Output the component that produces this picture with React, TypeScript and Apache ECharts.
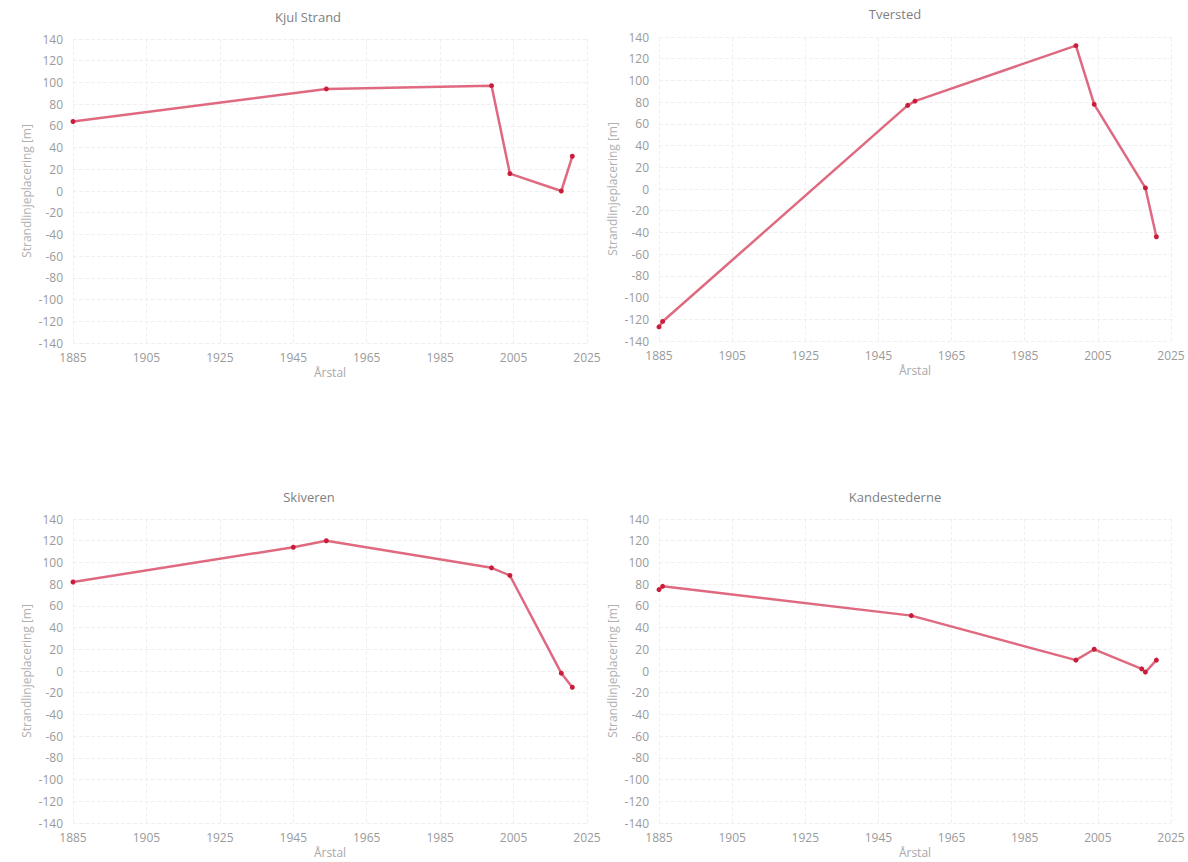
import React, { useEffect, useRef } from "react";
import * as echarts from "echarts";

// Data
const chartTitles = ["Kjul Strand", "Tversted", "Skiveren", "Kandestederne"];

const kjulYears = [1885, 1954, 1999, 2004, 2018, 2021];
const kjulValues = [64, 94, 97, 16, 0, 32];

const tverstedYears = [1885, 1886, 1953, 1955, 1999, 2004, 2018, 2021];
const tverstedValues = [-127, -122, 77, 81, 132, 78, 1, -44];

const skiverenYears = [1885, 1945, 1954, 1999, 2004, 2018, 2021];
const skiverenValues = [82, 114, 120, 95, 88, -2, -15];

const kandeYears = [1885, 1886, 1954, 1999, 2004, 2017, 2018, 2021];
const kandeValues = [75, 78, 51, 10, 20, 2, -1, 10];

const xTickStart = 1885;
const xTickEnd = 2025;
const xTickStep = 20;
const yMin = -140;
const yMax = 140;
const yStep = 20;

const xName = "Årstal";
const yName = "Strandlinjeplacering [m]";

const allYears = [kjulYears, tverstedYears, skiverenYears, kandeYears];
const allValues = [kjulValues, tverstedValues, skiverenValues, kandeValues];

// layout (page coordinates)
const grids = [
  { left: 73, top: 39, width: 514, height: 304 },
  { left: 659, top: 37, width: 512, height: 304 },
  { left: 73, top: 519, width: 514, height: 304 },
  { left: 659, top: 519, width: 512, height: 304 },
];
const titlePos = [
  { x: 308, y: 10 },
  { x: 895, y: 7 },
  { x: 309, y: 490 },
  { x: 895, y: 490 },
];

const FONT = "Open Sans";

export default function App() {
  const ref = useRef<HTMLDivElement>(null);

  useEffect(() => {
    if (!ref.current) return;
    const chart = echarts.init(ref.current, undefined, { renderer: "svg" });

    const option: any = {
      animation: false,
      backgroundColor: "#ffffff",
      title: chartTitles.map((t, i) => ({
        text: t,
        left: titlePos[i].x,
        top: titlePos[i].y,
        textAlign: "center",
        padding: 0,
        textStyle: {
          fontFamily: FONT,
          fontSize: 13,
          fontWeight: "normal",
          color: "#808080",
        },
      })),
      grid: grids.map((g) => ({ ...g, containLabel: false })),
      xAxis: grids.map((_, i) => ({
        type: "value",
        gridIndex: i,
        min: 0,
        max: xTickEnd - xTickStart,
        interval: xTickStep,
        name: xName,
        nameLocation: "middle",
        nameGap: 23,
        nameTextStyle: { fontFamily: FONT, fontSize: 12, color: "#a8a8a8" },
        axisLine: { show: false },
        axisTick: { show: false },
        axisLabel: {
          fontFamily: FONT,
          fontSize: 12,
          color: "#9a9a9a",
          margin: 8,
          formatter: (v: number) => String(v + xTickStart),
        },
        splitLine: {
          show: true,
          lineStyle: { color: "#f0f0f0", type: "dashed", width: 1 },
        },
      })),
      yAxis: grids.map((_, i) => ({
        type: "value",
        gridIndex: i,
        min: yMin,
        max: yMax,
        interval: yStep,
        name: yName,
        nameLocation: "middle",
        nameGap: 41,
        nameTextStyle: { fontFamily: FONT, fontSize: 12, color: "#b0b0b0" },
        axisLine: { show: false },
        axisTick: { show: false },
        axisLabel: {
          fontFamily: FONT,
          fontSize: 12,
          color: "#9a9a9a",
          margin: 10,
        },
        splitLine: {
          show: true,
          lineStyle: { color: "#f0f0f0", type: "dashed", width: 1 },
        },
      })),
      series: allYears.map((years, i) => ({
        type: "line",
        xAxisIndex: i,
        yAxisIndex: i,
        data: years.map((y, k) => [y - xTickStart, allValues[i][k]]),
        symbol: "circle",
        symbolSize: 5,
        showSymbol: true,
        lineStyle: { color: "#dc5a72", width: 2.5, opacity: 0.9 },
        itemStyle: { color: "#c81e3c" },
        clip: false,
      })),
    };

    chart.setOption(option);
    return () => chart.dispose();
  }, []);

  return (
    <div
      ref={ref}
      style={{ position: "fixed", left: 0, top: 0, width: 1188, height: 862 }}
    />
  );
}
